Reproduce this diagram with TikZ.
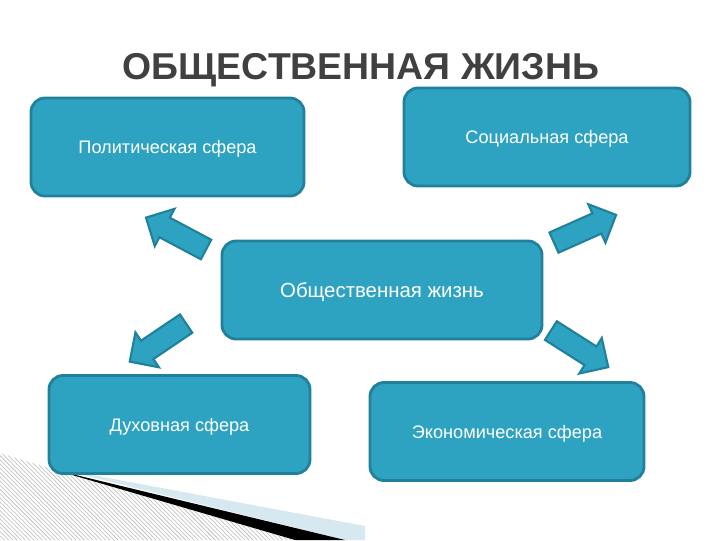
\documentclass[tikz,border=0pt]{standalone}
\usepackage{fontspec}
\setmainfont{Liberation Sans}
\usetikzlibrary{positioning,shapes.arrows,patterns}
\definecolor{boxfill}{HTML}{2EA3C1}
\definecolor{boxline}{HTML}{21809A}
\definecolor{titlegray}{HTML}{404040}
\definecolor{paleblue}{HTML}{D6E9F1}
\tikzset{
  sfera/.style={draw=boxline,line width=2pt,fill=boxfill,rounded corners=10pt,
    text=white,font=\fontsize{12.9}{15}\selectfont,text depth=0pt,minimum height=2.45cm},
  bigarrow/.style={single arrow,draw=boxline,line width=1.5pt,fill=boxfill,
    inner sep=0.25cm,single arrow head extend=0.25cm,minimum height=1.7cm,anchor=tail}
}
\begin{document}
\begin{tikzpicture}[x=0.025cm,y=-0.025cm]
            \useasboundingbox (0,0) rectangle (720,540);
            % corner decoration
            \fill[pattern=north west lines,pattern color=gray!55] (0,453) -- (55,470) -- (295,540) -- (0,540) -- cycle;
            \fill[paleblue] (55,468) -- (365,526) -- (365,540) -- (345,540) -- cycle;
            \fill[black] (55,470) -- (345,540) -- (295,540) -- cycle;
            % title
            \node[font=\fontsize{26.6}{30}\selectfont\bfseries,text=titlegray] (titel) at (361,70) {ОБЩЕСТВЕННАЯ ЖИЗНЬ};
            % spheres
            \node[sfera,minimum width=6.825cm] (polit) at (167.5,147) {Политическая сфера};
            \node[sfera,minimum width=7.15cm] (social) at (547,137) {Социальная сфера};
            \node[sfera,minimum width=8cm,font=\fontsize{14.5}{17}\selectfont] (obsh) at (382,290) {Общественная жизнь};
            \node[sfera,minimum width=6.525cm] (duh) at (179.5,424.5) {Духовная сфера};
            \node[sfera,minimum width=6.85cm] (econ) at (507,431.5) {Экономическая сфера};
            % arrows
            \node[bigarrow,rotate=152] (s1) at (207,250) {};
            \node[bigarrow,rotate=24] (s2) at (553,243) {};
            \node[bigarrow,rotate=214] (s3) at (187,323) {};
            \node[bigarrow,rotate=-32.5] (s4) at (550,330) {};
\end{tikzpicture}
\end{document}
